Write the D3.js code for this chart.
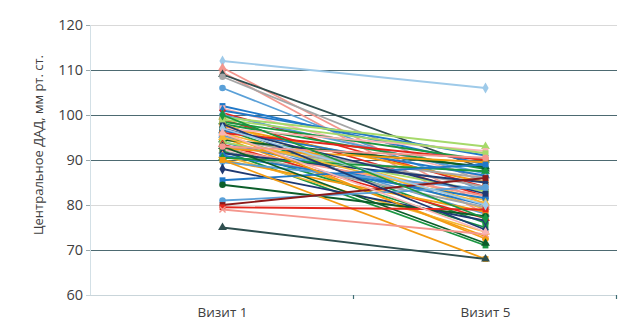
<!DOCTYPE html>
<html>
<head>
<meta charset="utf-8">
<script src="https://cdn.jsdelivr.net/npm/d3@7"></script>
<style>
html,body{margin:0;padding:0;background:#fff;}
svg text{font-family:"Open Sans","Noto Sans",sans-serif;fill:#404040;}
</style>
</head>
<body>
<svg id="chart" width="619" height="329"></svg>
<script>
const categories = ["Визит 1", "Визит 5"];
const yTicks = [60, 70, 80, 90, 100, 110, 120];
const yTitle = "Центральное ДАД, мм рт. ст.";

const visit1 = [112,110.5,109.5,109,108.5,106,102,101.5,101,100.5,100,99.5,99,98.5,98,98,97.5,97,97,96.5,96,96,95.5,95,95,94.5,94,94,93.5,93,93,92.5,92.5,92,92,91.5,91,91,90.5,90,89.5,88,96,95,85.5,97,84.5,93,90,81,80,98,79.5,79,75,97,99,96,93,100];
const visit5 = [106,80,78,88,85,83,89,86,91,84,87,93,82,90,88,79,85,92,76,86.5,81,90,78,84,73,88.5,80,83,77,86,75,89.5,82,79.5,71,85,74,81.5,87.5,78.5,83.5,76.5,72.5,80.5,89,82.5,77.5,71.5,68,84,86,74.5,79,73.5,68,80,91.5,74,90.5,77];
const seriesColors = ["#9ecae9","#f4978e","#f4978e","#2f4f4f","#a6a6a6","#5aa0d8","#1f78c8","#f9b4b4","#1f78c8","#e3271d","#5aa0d8","#a6d96a","#e3271d","#1a9641","#1a9641","#f7b733","#f39c12","#f9b4b4","#1a9641","#1f78c8","#f7b733","#e3271d","#5aa0d8","#a6a6a6","#f39c12","#0b5e2a","#1f78c8","#a6d96a","#e3271d","#a6a6a6","#1a9641","#f39c12","#f4978e","#a6a6a6","#1a9641","#1f3a73","#f7b733","#1f78c8","#1a9641","#f39c12","#5aa0d8","#1f3a73","#f39c12","#f7b733","#1f78c8","#1f3a73","#0b5e2a","#0b5e2a","#f39c12","#5aa0d8","#8b1a1a","#1f3a73","#e3271d","#f4978e","#2f4f4f","#9ecae9","#a6d96a","#f9b4b4","#f4978e","#1a9641"];
const seriesMarkers = ["diamond","triangle","square","triangle","circle","circle","square","square","diamond","cross","circle","triangle","square","triangle","diamond","circle","square","square","circle","triangle","diamond","square","triangle","square","cross","triangle","diamond","circle","triangle","diamond","square","circle","square","triangle","square","diamond","triangle","circle","triangle","square","diamond","diamond","circle","triangle","square","square","circle","triangle","square","circle","square","diamond","square","cross","triangle","diamond","square","triangle","circle","diamond"];

const svg = d3.select("#chart");
const margin = {left: 91, right: 2, top: 25, bottom: 34};
const W = 619, H = 329;

const x = d3.scaleBand().domain(categories).range([margin.left, W - margin.right]).paddingInner(0).paddingOuter(0);
const y = d3.scaleLinear().domain([60, 120]).range([H - margin.bottom, margin.top]);

// gridlines
const darkGrid = new Set([70, 90, 100, 110]);
svg.append("g").selectAll("line").data(yTicks.filter(d => d > 60)).join("line")
  .attr("x1", margin.left).attr("x2", W - margin.right)
  .attr("y1", d => Math.round(y(d)) + 0.5).attr("y2", d => Math.round(y(d)) + 0.5)
  .attr("stroke", d => darkGrid.has(d) ? "#4d6a71" : "#d9d9d9")
  .attr("stroke-width", 1);

// y axis line
svg.append("line")
  .attr("x1", margin.left - 0.5).attr("x2", margin.left - 0.5)
  .attr("y1", y(120)).attr("y2", y(60))
  .attr("stroke", "#d3e0e6");

// y ticks & labels
const yg = svg.append("g");
yg.selectAll("line").data(yTicks).join("line")
  .attr("x1", margin.left - 5).attr("x2", margin.left - 1)
  .attr("y1", d => Math.round(y(d)) + 0.5).attr("y2", d => Math.round(y(d)) + 0.5)
  .attr("stroke", "#9aa9ad");
yg.selectAll("text").data(yTicks).join("text")
  .attr("x", margin.left - 8).attr("y", d => y(d))
  .attr("dy", "0.35em").attr("text-anchor", "end")
  .style("font-size", "14.5px")
  .text(d => d);

// x axis
svg.append("line")
  .attr("x1", margin.left - 5).attr("x2", W - margin.right)
  .attr("y1", Math.round(y(60)) + 0.5).attr("y2", Math.round(y(60)) + 0.5)
  .attr("stroke", "#c9d5da");
const bounds = [x(categories[1]), W - margin.right];
svg.append("g").selectAll("line").data(bounds).join("line")
  .attr("x1", d => Math.round(d) - 0.5).attr("x2", d => Math.round(d) - 0.5)
  .attr("y1", y(60)).attr("y2", y(60) + 4)
  .attr("stroke", "#3f6d74").attr("stroke-width", 1.2);
svg.append("g").selectAll("text").data(categories).join("text")
  .attr("x", d => x(d) + x.bandwidth() / 2).attr("y", y(60) + 22)
  .attr("text-anchor", "middle")
  .style("font-size", "13.5px")
  .text(d => d);

// y title
svg.append("text")
  .attr("transform", `translate(43,${145}) rotate(-90)`)
  .attr("text-anchor", "middle")
  .style("font-size", "13px")
  .text(yTitle);

// series
const series = visit1.map((v, i) => ({
  values: [v, visit5[i]], color: seriesColors[i], marker: seriesMarkers[i]
}));
const cx = c => x(c) + x.bandwidth() / 2;
const line = d3.line().x((d, j) => cx(categories[j])).y(d => y(d));

const symMap = {
  diamond: d3.symbolDiamond, square: d3.symbolSquare,
  triangle: d3.symbolTriangle, circle: d3.symbolCircle, cross: d3.symbolTimes
};

const sg = svg.append("g");
series.forEach(s => {
  const g = sg.append("g");
  g.append("path").datum(s.values).attr("d", line)
    .attr("fill", "none").attr("stroke", s.color).attr("stroke-width", 1.8);
  g.selectAll("path.m").data(s.values).join("path").attr("class", "m")
    .attr("transform", (d, j) => `translate(${cx(categories[j])},${y(d)})`)
    .attr("d", d3.symbol().type(symMap[s.marker]).size(s.marker === "cross" ? 26 : 34))
    .attr("fill", s.marker === "cross" ? "none" : s.color)
    .attr("stroke", s.color).attr("stroke-width", s.marker === "cross" ? 1.4 : 0);
});
</script>
</body>
</html>
